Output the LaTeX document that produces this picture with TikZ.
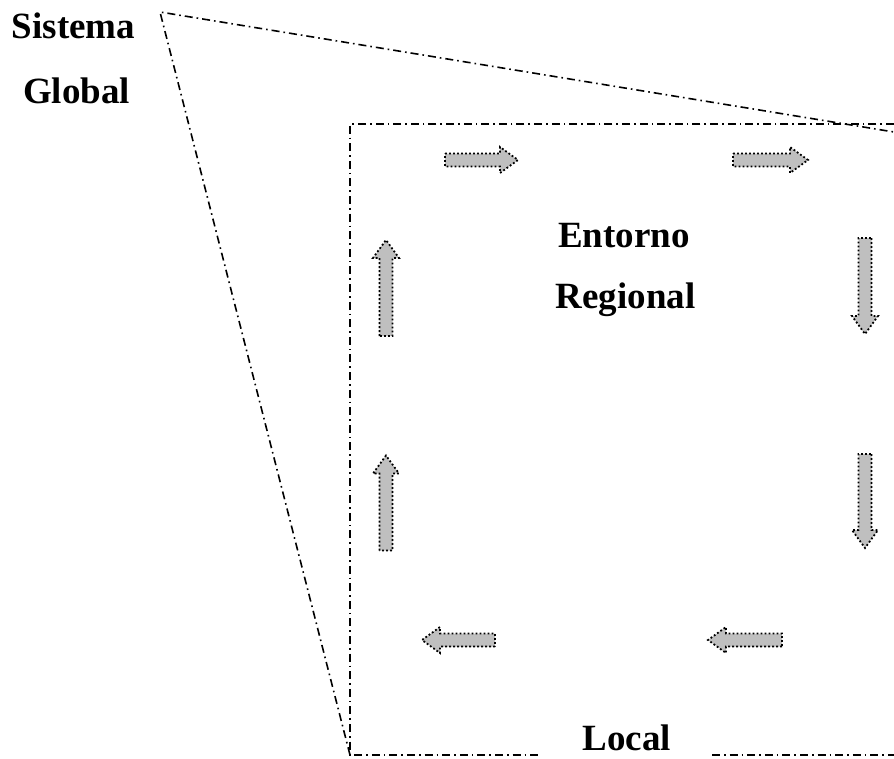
\documentclass[tikz,border=0pt]{standalone}
\usepackage{fontspec}
\setmainfont{Liberation Serif}
\tikzset{
  frameline/.style={line width=1.6pt, dash pattern=on 8pt off 4pt on 1.6pt off 4pt},
  arrowline/.style={draw=black, fill=black!25, line width=1.8pt,
    dash pattern=on 1.8pt off 2.2pt, line join=miter},
  pics/flowarr/.style={code={
    \path[arrowline] (-#1/2,-6.5) -- (#1/2-18,-6.5) -- (#1/2-18,-13) -- (#1/2,0)
      -- (#1/2-18,13) -- (#1/2-18,6.5) -- (-#1/2,6.5) -- cycle;
  }},
  lbl/.style={font=\bfseries\fontsize{37}{40}\selectfont, anchor=base, inner sep=0pt}
}
\begin{document}
\begin{tikzpicture}[x=1pt,y=-1pt]
\useasboundingbox (0,0) rectangle (894,758);
% frame coordinates
\coordinate (apex) at (160,12);
\coordinate (tl) at (350,124);
\coordinate (bl) at (350,755);
\coordinate (tr) at (894,124);
\coordinate (br) at (894,755);
\coordinate (triR) at (894,132);
\coordinate (gapL) at (540,755);
\coordinate (gapR) at (712,755);
% triangle (global system)
\draw[frameline] (bl) -- (apex) -- (triR);
% regional rectangle
\draw[frameline] (tr) -- (tl) -- (bl) -- (gapL);
\draw[frameline] (gapR) -- (br);
% labels
\node[lbl] (sis) at (73.5,38) {Sistema};
\node[lbl] (glo) at (76.5,103) {Global};
\node[lbl] (ent) at (624,247) {Entorno};
\node[lbl] (reg) at (625.5,308) {Regional};
\node[lbl] (loc) at (627,750) {Local};
% arrows
\pic (a1) at (481.5,160) {flowarr=73};
\pic (a2) at (770.5,160) {flowarr=75};
\pic[rotate=-90] (a3) at (865,286) {flowarr=96};
\pic[rotate=-90] (a4) at (865,501) {flowarr=94};
\pic[rotate=180] (a5) at (745,640) {flowarr=74};
\pic[rotate=180] (a6) at (458.5,640) {flowarr=73};
\pic[rotate=90] (a7) at (386,503) {flowarr=95};
\pic[rotate=90] (a8) at (386,288) {flowarr=96};
\end{tikzpicture}
\end{document}
